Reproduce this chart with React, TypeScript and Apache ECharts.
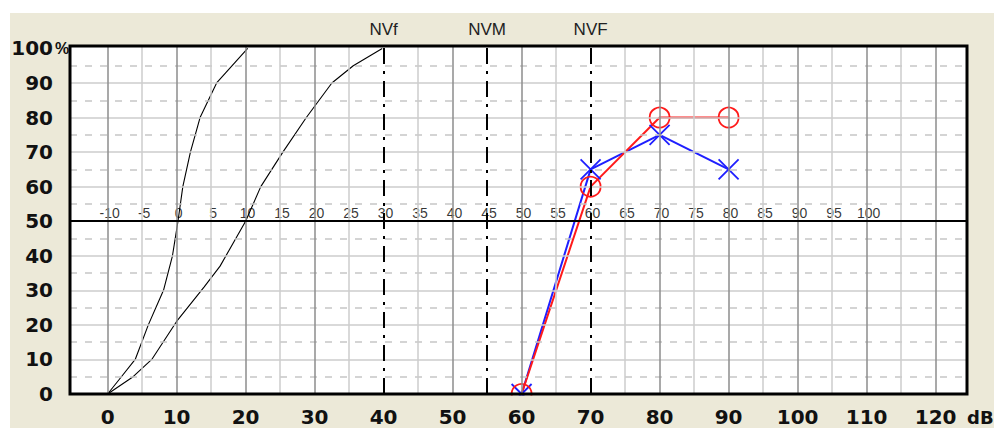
import React, { useEffect, useRef } from "react";
import * as echarts from "echarts";

// ---- data ----
const xTickLabels = [0, 10, 20, 30, 40, 50, 60, 70, 80, 90, 100, 110, 120];
const xUnitLabel = "dB";
const yTickLabels = [0, 10, 20, 30, 40, 50, 60, 70, 80, 90, 100];
const yUnitLabel = "%";
const majorGridDb = [0, 10, 20, 30, 40, 50, 60, 70, 80, 90, 100, 110, 120];
const minorGridDb = [5, 15, 25, 35, 45, 55, 65, 75, 85, 95, 105, 115];
const solidGridPct = [10, 20, 30, 40, 60, 70, 80, 90];
const dashedGridPct = [5, 15, 25, 35, 45, 55, 65, 75, 85, 95];
const midLinePct = 50;
const innerScaleLabels = [-10, -5, 0, 5, 10, 15, 20, 25, 30, 35, 40, 45, 50, 55, 60, 65, 70, 75, 80, 85, 90, 95, 100];
const innerScaleShiftDb = 10;
const refLineDb = [40, 55, 70];
const refLineLabels = ["NVf", "NVM", "NVF"];

const normCurveSteep = [
  [0, 0], [2, 5], [4, 10], [5.9, 20], [8.1, 30], [9.4, 40], [10.2, 50],
  [10.9, 60], [12, 70], [13.4, 80], [15.8, 90], [20.3, 100],
];
const normCurveFlat = [
  [0, 0], [3.7, 5], [6.4, 10], [10, 21], [14, 31], [16.3, 37], [20, 50],
  [22.2, 60], [25.4, 70], [28.8, 80], [32.5, 90], [35.6, 95], [39.8, 100],
];

const redDb = [60, 70, 80, 90];
const redPct = [0, 60, 80, 80];
const blueDb = [60, 70, 80, 90];
const bluePct = [0, 65, 75, 65];

// ---- layout ----
const X_MIN = -5.45;
const X_MAX = 124.55;
const Y_MAX = 100.7;
const BEIGE = "#ECE9D8";
const BOLD_FONT = "DejaVu Sans";

export default function App() {
  const ref = useRef<HTMLDivElement>(null);

  useEffect(() => {
    document.body.style.margin = "0";
    const chart = echarts.init(ref.current!, null, { renderer: "svg" });

    const markData: any[] = [
      ...solidGridPct.map((v) => ({
        yAxis: v,
        lineStyle: { color: "#cdcdcd", width: 1.5, type: "solid" },
      })),
      ...dashedGridPct.map((v) => ({
        yAxis: v,
        lineStyle: { color: "#c6c6c6", width: 1.5, type: [7, 8] },
      })),
      ...minorGridDb
        .filter((v) => !refLineDb.includes(v))
        .map((v) => ({
          xAxis: v,
          lineStyle: { color: "#cdcdcd", width: 1.5, type: "solid" },
        })),
      ...majorGridDb
        .filter((v) => !refLineDb.includes(v))
        .map((v) => ({
          xAxis: v,
          lineStyle: { color: "#8c8c8c", width: 1.5, type: "solid" },
        })),
      {
        yAxis: midLinePct,
        lineStyle: { color: "#000", width: 2, type: "solid" },
      },
      ...refLineDb.map((v, i) => ({
        xAxis: v,
        lineStyle: { color: "#000", width: 2, type: [16, 7, 3, 7] },
        label: {
          show: true,
          position: "end",
          distance: 8,
          formatter: refLineLabels[i],
          color: "#222",
          fontFamily: "Liberation Sans",
          fontSize: 17,
        },
      })),
    ];

    const boldLabel = {
      fontFamily: BOLD_FONT,
      fontWeight: "bold",
      fontSize: 20,
      lineHeight: 20,
      color: "#111",
    };

    chart.setOption({
      animation: false,
      backgroundColor: "#ffffff",
      grid: {
        left: 70,
        right: 27,
        top: 46,
        bottom: 34,
        show: true,
        z: 10,
        backgroundColor: "rgba(0,0,0,0)",
        borderColor: "#000",
        borderWidth: 3,
      },
      xAxis: {
        type: "value",
        min: X_MIN,
        max: X_MAX,
        z: 12,
        axisLine: { show: false },
        axisTick: { show: false },
        splitLine: { show: false },
        axisLabel: {
          ...boldLabel,
          customValues: xTickLabels,
          margin: 13,
        },
      },
      yAxis: {
        type: "value",
        min: 0,
        max: Y_MAX,
        z: 12,
        axisLine: { show: false },
        axisTick: { show: false },
        splitLine: { show: false },
        axisLabel: {
          ...boldLabel,
          customValues: yTickLabels,
          margin: 17,
          align: "right",
        },
      },
      graphic: {
        elements: [
          {
            type: "rect",
            silent: true,
            z: -100,
            shape: { x: 10, y: 13, width: 984, height: 415 },
            style: { fill: BEIGE },
          },
          {
            type: "rect",
            silent: true,
            z: -90,
            shape: { x: 70, y: 46, width: 897, height: 348 },
            style: { fill: "#ffffff" },
          },
          {
            type: "rect",
            silent: true,
            z: 5,
            shape: { x: 10, y: 395.5, width: 984, height: 32.5 },
            style: { fill: BEIGE },
          },
          {
            type: "text",
            silent: true,
            z: 11,
            style: {
              x: 55,
              y: 48,
              text: yUnitLabel,
              fill: "#111",
              font: 'bold 16px "Liberation Sans"',
              verticalAlign: "middle",
              align: "left",
            },
          },
          {
            type: "text",
            silent: true,
            z: 13,
            style: {
              x: 967,
              y: 417,
              text: xUnitLabel,
              fill: "#111",
              font: 'bold 18px "DejaVu Sans"',
              verticalAlign: "middle",
              align: "left",
            },
          },
        ],
      },
      series: [
        {
          type: "line",
          data: [],
          silent: true,
          z: 1,
          markLine: {
            silent: true,
            symbol: ["none", "none"],
            label: { show: false },
            data: markData,
          },
        },
        {
          type: "scatter",
          silent: true,
          z: 4,
          symbolSize: 1,
          itemStyle: { color: "rgba(0,0,0,0)" },
          data: innerScaleLabels.map((v) => [v + innerScaleShiftDb, midLinePct, v]),
          label: {
            show: true,
            position: "top",
            distance: 1,
            offset: [2, 0],
            formatter: (p: any) => String(p.value[2]),
            fontFamily: "Liberation Sans",
            fontSize: 14,
            color: "#000",
          },
        },
        {
          type: "line",
          data: normCurveSteep,
          symbol: "none",
          silent: true,
          z: 3,
          lineStyle: { color: "#000", width: 1.1 },
        },
        {
          type: "line",
          data: normCurveFlat,
          symbol: "none",
          silent: true,
          z: 3,
          lineStyle: { color: "#000", width: 1.1 },
        },
        {
          type: "line",
          data: blueDb.map((d, i) => [d, bluePct[i]]),
          clip: false,
          z: 3,
          symbol: "path://M0,0L20,20M20,0L0,20",
          symbolSize: 20,
          lineStyle: { color: "#1f1fff", width: 2 },
          itemStyle: { color: "rgba(0,0,0,0)", borderColor: "#1f1fff", borderWidth: 1.8 },
        },
        {
          type: "line",
          data: redDb.map((d, i) => [d, redPct[i]]),
          clip: false,
          z: 3,
          symbol: "circle",
          symbolSize: 20,
          lineStyle: { color: "#ff1a1a", width: 2 },
          itemStyle: { color: "rgba(0,0,0,0)", borderColor: "#ff1a1a", borderWidth: 1.8 },
        },
      ],
    });

    return () => chart.dispose();
  }, []);

  return <div ref={ref} style={{ width: 994, height: 428 }} />;
}
